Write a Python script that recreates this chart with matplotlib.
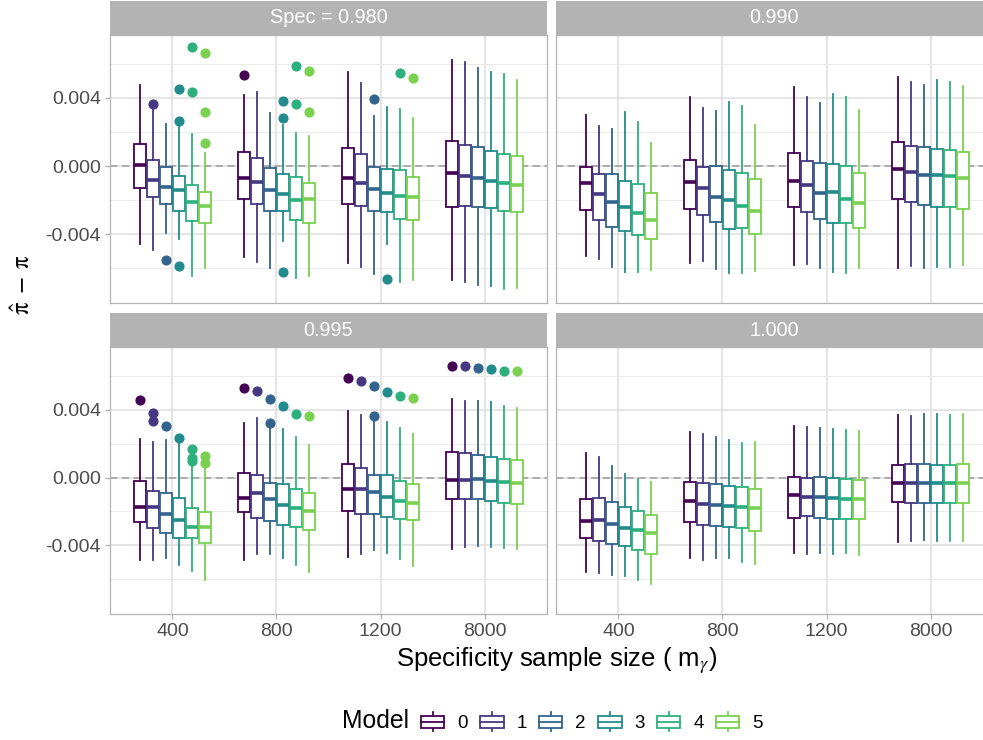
import numpy as np
import matplotlib
matplotlib.use("Agg")
import matplotlib.pyplot as plt
from matplotlib.patches import Rectangle, Patch
from matplotlib.lines import Line2D
from matplotlib.legend_handler import HandlerBase

plt.rcParams['font.family'] = ['Liberation Sans', 'DejaVu Sans']
plt.rcParams['mathtext.fontset'] = 'stix'

# --- data (values in units of 1e-3), rows = sample size, cols = model ---
sample_sizes = ["400", "800", "1200", "8000"]
models = [0, 1, 2, 3, 4, 5]
facet_labels = ["Spec = 0.980", "0.990", "0.995", "1.000"]

# spec 0.980
lo_980 = [[-4.56, -4.91, -3.92, -4.31, -6.45, -6.02],
          [-5.36, -5.63, -6.02, -4.41, -6.60, -6.49],
          [-5.71, -5.94, -6.35, -4.58, -6.83, -6.70],
          [-6.70, -6.83, -7.01, -7.07, -7.24, -7.17]]
q1_980 = [[-1.32, -1.84, -2.23, -2.62, -3.26, -3.36],
          [-1.96, -2.23, -2.62, -2.62, -3.17, -3.34],
          [-2.25, -2.35, -2.64, -2.72, -3.09, -3.15],
          [-2.43, -2.33, -2.39, -2.45, -2.62, -2.72]]
md_980 = [[0.06, -0.83, -1.24, -1.42, -2.14, -2.35],
          [-0.68, -0.93, -1.42, -1.63, -2.00, -1.96],
          [-0.70, -1.01, -1.36, -1.59, -1.75, -1.84],
          [-0.43, -0.58, -0.72, -0.87, -1.01, -1.09]]
q3_980 = [[1.32, 0.35, -0.04, -0.58, -1.09, -1.53],
          [0.80, 0.50, -0.12, -0.49, -0.64, -1.01],
          [1.07, 0.68, -0.04, -0.17, -0.25, -0.66],
          [1.48, 1.26, 1.11, 0.91, 0.70, 0.56]]
hi_980 = [[4.76, 3.34, 2.49, 2.33, 1.88, 0.78],
          [4.16, 4.33, 3.09, 2.41, 1.94, 1.79],
          [5.50, 4.87, 2.93, 3.48, 3.36, 2.82],
          [6.25, 6.12, 5.77, 5.53, 5.40, 5.05]]
out_980 = [(0, 1, 3.63), (0, 2, -5.51), (0, 3, 4.54), (0, 3, 2.64), (0, 3, -5.90),
           (0, 4, 6.99), (0, 4, 4.37), (0, 5, 6.64), (0, 5, 3.15), (0, 5, 1.36),
           (1, 0, 5.36), (1, 3, 3.83), (1, 3, 2.80), (1, 3, -6.25), (1, 4, 5.86),
           (1, 4, 3.65), (1, 5, 5.57), (1, 5, 3.15),
           (2, 2, 3.96), (2, 3, -6.62), (2, 4, 5.44), (2, 5, 5.18)]

# spec 0.990
lo_990 = [[-5.30, -5.44, -5.96, -6.23, -6.21, -6.10],
          [-5.69, -5.57, -6.08, -6.27, -6.31, -6.16],
          [-5.81, -5.75, -5.98, -6.25, -6.27, -6.02],
          [-6.00, -5.86, -5.98, -5.96, -5.94, -5.84]]
q1_990 = [[-2.56, -3.17, -3.59, -3.79, -4.06, -4.27],
          [-2.52, -2.87, -3.30, -3.71, -3.63, -3.98],
          [-2.43, -2.68, -3.11, -3.32, -3.32, -3.65],
          [-1.96, -2.12, -2.27, -2.43, -2.43, -2.52]]
md_990 = [[-1.01, -1.67, -2.12, -2.43, -2.76, -3.15],
          [-0.91, -1.30, -1.84, -1.98, -2.33, -2.64],
          [-0.87, -1.09, -1.57, -1.53, -1.96, -2.17],
          [-0.16, -0.33, -0.50, -0.54, -0.60, -0.70]]
q3_990 = [[-0.06, -0.45, -0.45, -0.89, -1.05, -1.57],
          [0.33, -0.04, -0.02, -0.25, -0.43, -0.78],
          [0.76, 0.29, 0.16, 0.10, -0.02, -0.41],
          [1.44, 1.15, 1.11, 0.99, 0.93, 0.85]]
hi_990 = [[3.01, 2.37, 2.17, 3.20, 2.58, 1.36],
          [4.04, 3.40, 3.22, 3.77, 3.53, 2.41],
          [4.62, 4.08, 3.71, 4.25, 4.04, 3.28],
          [5.22, 4.95, 4.78, 5.05, 4.91, 4.70]]
out_990 = []

# spec 0.995
lo_995 = [[-4.87, -4.87, -4.73, -5.18, -5.51, -6.05],
          [-4.87, -4.54, -4.54, -4.73, -5.18, -5.57],
          [-4.66, -4.52, -4.25, -4.44, -4.83, -5.20],
          [-4.19, -4.10, -4.02, -4.10, -4.15, -4.23]]
q1_995 = [[-2.65, -2.96, -3.27, -3.54, -3.54, -3.86],
          [-2.05, -2.38, -2.57, -2.80, -2.94, -3.07],
          [-1.99, -2.13, -2.16, -2.32, -2.43, -2.53],
          [-1.28, -1.28, -1.26, -1.39, -1.49, -1.57]]
md_995 = [[-1.74, -1.76, -2.13, -2.53, -2.90, -2.94],
          [-1.22, -0.93, -1.26, -1.60, -1.82, -1.99],
          [-0.68, -0.68, -0.85, -1.12, -1.37, -1.49],
          [-0.15, -0.17, -0.10, -0.19, -0.27, -0.33]]
q3_995 = [[-0.23, -0.79, -0.91, -1.20, -1.80, -2.03],
          [0.29, 0.14, -0.33, -0.37, -0.68, -0.93],
          [0.79, 0.56, 0.14, 0.15, -0.21, -0.37],
          [1.49, 1.45, 1.31, 1.20, 1.12, 1.04]]
hi_995 = [[2.26, 2.09, 2.20, 1.99, 0.66, 0.68],
          [3.19, 3.52, 3.08, 2.84, 2.38, 1.89],
          [3.90, 3.67, 3.32, 3.27, 2.90, 2.55],
          [4.62, 4.50, 4.50, 4.44, 4.21, 4.12]]
out_995 = [(0, 0, 4.58), (0, 1, 3.81), (0, 1, 3.36), (0, 2, 3.05), (0, 3, 2.36),
           (0, 4, 1.68), (0, 4, 1.14), (0, 4, 0.97), (0, 5, 1.26), (0, 5, 0.85),
           (1, 0, 5.31), (1, 1, 5.10), (1, 2, 4.64), (1, 2, 3.19), (1, 3, 4.23),
           (1, 4, 3.75), (1, 5, 3.65),
           (2, 0, 5.86), (2, 1, 5.72), (2, 2, 5.37), (2, 2, 3.65), (2, 3, 5.04),
           (2, 4, 4.79), (2, 5, 4.70),
           (3, 0, 6.57), (3, 1, 6.57), (3, 2, 6.47), (3, 3, 6.38), (3, 4, 6.30), (3, 5, 6.28)]

# spec 1.000
lo_1000 = [[-5.55, -5.62, -5.72, -5.78, -6.03, -6.26],
           [-4.77, -4.89, -4.73, -4.77, -4.99, -5.12],
           [-4.44, -4.52, -4.46, -4.50, -4.46, -4.56],
           [-3.79, -3.73, -3.71, -3.73, -3.73, -3.75]]
q1_1000 = [[-3.54, -3.75, -3.94, -4.04, -4.29, -4.52],
           [-2.61, -2.80, -2.84, -2.94, -2.98, -3.13],
           [-2.36, -2.28, -2.36, -2.42, -2.45, -2.47],
           [-1.45, -1.53, -1.53, -1.53, -1.53, -1.53]]
md_1000 = [[-2.57, -2.53, -2.72, -2.96, -3.07, -3.25],
           [-1.41, -1.57, -1.60, -1.70, -1.74, -1.80],
           [-1.02, -1.16, -1.16, -1.20, -1.24, -1.24],
           [-0.33, -0.35, -0.35, -0.33, -0.35, -0.35]]
q3_1000 = [[-1.28, -1.22, -1.47, -1.76, -1.97, -2.22],
           [-0.27, -0.33, -0.39, -0.50, -0.58, -0.66],
           [0.04, -0.04, 0.06, -0.04, -0.08, -0.15],
           [0.75, 0.77, 0.77, 0.75, 0.73, 0.77]]
hi_1000 = [[1.45, 1.20, 0.70, 0.19, -0.06, -0.27],
           [2.71, 2.55, 2.38, 2.20, 2.03, 2.09],
           [3.05, 2.98, 2.92, 2.84, 2.80, 2.76],
           [3.69, 3.65, 3.75, 3.75, 3.67, 3.75]]
out_1000 = []

facets = [
    (lo_980, q1_980, md_980, q3_980, hi_980, out_980),
    (lo_990, q1_990, md_990, q3_990, hi_990, out_990),
    (lo_995, q1_995, md_995, q3_995, hi_995, out_995),
    (lo_1000, q1_1000, md_1000, q3_1000, hi_1000, out_1000),
]

colors = plt.cm.viridis(np.linspace(0, 0.8, len(models)))
unit = 1e-3


class BoxKey(HandlerBase):
    # ggplot style boxplot key
    def create_artists(self, legend, orig_handle, xdescent, ydescent,
                       width, height, fontsize, trans):
        c = orig_handle.get_edgecolor()
        x0, y0 = -xdescent, -ydescent
        xm = x0 + width / 2
        arts = [
            Line2D([xm, xm], [y0, y0 + 0.18 * height], color=c, lw=1.3),
            Line2D([xm, xm], [y0 + 0.82 * height, y0 + height], color=c, lw=1.3),
            Rectangle((x0, y0 + 0.18 * height), width, 0.64 * height,
                      fc='white', ec=c, lw=1.3),
            Line2D([x0, x0 + width], [y0 + 0.5 * height] * 2, color=c, lw=1.3),
        ]
        for a in arts:
            a.set_transform(trans)
        return arts


W, H = 983, 740
fig = plt.figure(figsize=(W / 100, H / 100), dpi=100)


def px_box(l, t, w, h):
    return [l / W, 1 - (t + h) / H, w / W, h / H]


panel_rects = [(110, 35, 437, 268), (556, 35, 437, 268),
               (110, 347, 437, 267), (556, 347, 437, 267)]
strip_h = 34
dodge = 0.75 / len(models)

for k, (lo, q1, md, q3, hi, outs) in enumerate(facets):
    l, t, w, h = panel_rects[k]
    ax = fig.add_axes(px_box(l, t, w, h))
    ax.axhline(0, color='#A6A6A6', ls=(0, (4, 2.5)), lw=1.3, zorder=1)

    for m in models:
        c = colors[m]
        stats = []
        for g in range(len(sample_sizes)):
            fl = [v * unit for (gg, mm, v) in outs if gg == g and mm == m]
            stats.append(dict(med=md[g][m] * unit, q1=q1[g][m] * unit,
                              q3=q3[g][m] * unit, whislo=lo[g][m] * unit,
                              whishi=hi[g][m] * unit, fliers=fl))
        pos = np.arange(len(sample_sizes)) + (m - 2.5) * dodge
        ax.bxp(stats, positions=pos, widths=dodge * 0.9, patch_artist=True,
               showcaps=False, manage_ticks=False,
               boxprops=dict(facecolor='white', edgecolor=c, linewidth=1.3),
               medianprops=dict(color=c, linewidth=2.6, solid_capstyle='butt'),
               whiskerprops=dict(color=c, linewidth=1.3),
               flierprops=dict(marker='o', markerfacecolor=c, markeredgecolor=c,
                               markersize=6.3, linestyle='none'))

    ax.set_xlim(-0.6, 3.6)
    ax.set_ylim(-8.05e-3, 7.7e-3)
    ax.set_xticks(range(len(sample_sizes)))
    ax.set_xticklabels(sample_sizes)
    ax.set_yticks([-0.004, 0, 0.004])
    ax.set_yticklabels(['-0.004', '0.000', '0.004'])
    ax.set_yticks([-0.006, -0.002, 0.002, 0.006], minor=True)
    ax.grid(which='major', color='#DEDEDE', lw=1.1)
    ax.grid(which='minor', axis='y', color='#EBEBEB', lw=0.7)
    ax.set_axisbelow(True)
    for s in ax.spines.values():
        s.set_color('#B3B3B3')
        s.set_linewidth(0.9)
    ax.tick_params(which='major', color='#B3B3B3', length=3.5, width=0.9,
                   labelcolor='#4D4D4D', labelsize=14, pad=3)
    ax.tick_params(which='minor', length=0)
    if k < 2:
        ax.tick_params(bottom=False, labelbottom=False)
    if k % 2 == 1:
        ax.tick_params(left=False, labelleft=False)

    # facet strip
    sh = strip_h / h
    ax.add_patch(Rectangle((0, 1), 1, sh, transform=ax.transAxes,
                           fc='#B3B3B3', ec='none', clip_on=False))
    ax.text(0.5, 1 + sh / 2, facet_labels[k], transform=ax.transAxes,
            ha='center', va='center', color='white', fontsize=14.3)

fig.text(557 / W, 1 - 661 / H, r"Specificity sample size ( $\mathregular{m}_{\gamma}$)",
         ha='center', va='center', fontsize=18.5)
fig.text(23 / W, 1 - 285 / H, r"$\hat{\mathrm{\pi}}\;-\;\mathrm{\pi}$", rotation=90,
         ha='center', va='center', fontsize=18)

fig.text(342 / W, 1 - 721 / H, "Model", ha='left', va='center', fontsize=17.8)
handles = [Patch(facecolor='white', edgecolor=colors[m], label=str(m)) for m in models]
fig.legend(handles=handles, handler_map={Patch: BoxKey()}, ncol=len(models),
           frameon=False, loc='center left', bbox_to_anchor=(421 / W, 1 - 722 / H),
           fontsize=13.5, handlelength=1.25, handleheight=1.17, handletextpad=0.69,
           columnspacing=0.65, borderpad=0, borderaxespad=0)

fig.savefig("out.png", dpi=100)
